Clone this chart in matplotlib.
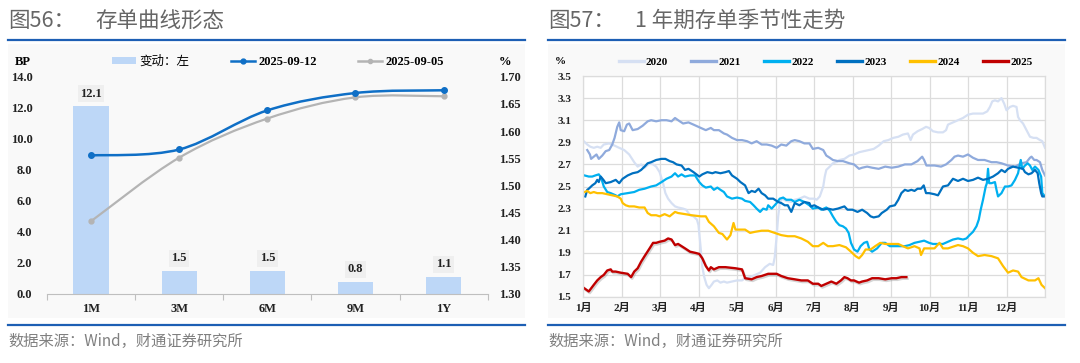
import numpy as np
import matplotlib
matplotlib.use('Agg')
import matplotlib.pyplot as plt
from matplotlib.path import Path
from matplotlib.patches import PathPatch, Rectangle, Patch
from matplotlib.lines import Line2D
import matplotlib.patheffects as pe

plt.rcParams['font.family'] = ['Liberation Serif', 'Noto Sans CJK SC']

# ---- left panel: curve shape ----
tenors = ['1M', '3M', '6M', '9M', '1Y']
change_bp = [12.1, 1.5, 1.5, 0.8, 1.1]
rate_0912 = [1.555, 1.566, 1.638, 1.670, 1.675]
rate_0905 = [1.434, 1.551, 1.623, 1.662, 1.664]

# ---- right panel: 1Y CD seasonality, (month position, %) ----
months = ['1月', '2月', '3月', '4月', '5月', '6月', '7月', '8月', '9月', '10月', '11月', '12月']

s2020 = [(0.02,2.91),(0.11,2.88),(0.19,2.86),(0.28,2.85),(0.37,2.86),(0.46,2.85),(0.54,2.88),(0.68,2.89),(0.82,2.87),(0.94,2.85),
         (1.07,2.83),(1.20,2.79),(1.33,2.72),(1.42,2.68),(1.51,2.70),(1.60,2.67),(1.73,2.71),(1.82,2.70),(1.90,2.68),(1.99,2.63),
         (2.08,2.53),(2.14,2.44),(2.21,2.39),(2.30,2.35),(2.39,2.32),(2.47,2.31),(2.60,2.30),(2.68,2.29),(2.78,2.24),(2.87,2.23),
         (2.96,2.20),(3.00,2.15),(3.02,2.08),(3.06,1.93),(3.10,1.77),(3.15,1.68),(3.21,1.61),(3.27,1.58),(3.34,1.61),(3.40,1.64),
         (3.49,1.65),(3.57,1.63),(3.66,1.64),(3.74,1.63),(3.87,1.64),(4.00,1.65),(4.13,1.65),(4.21,1.67),(4.34,1.68),(4.47,1.70),
         (4.60,1.72),(4.73,1.77),(4.77,1.78),(4.85,1.80),(4.94,1.79),(4.98,1.86),(5.03,2.05),(5.07,2.23),(5.11,2.35),(5.17,2.39),
         (5.28,2.37),(5.41,2.36),(5.50,2.38),(5.62,2.39),(5.75,2.41),(5.88,2.39),(6.01,2.39),(6.07,2.38),(6.15,2.41),(6.24,2.50),
         (6.28,2.59),(6.32,2.65),(6.41,2.68),(6.49,2.71),(6.58,2.72),(6.66,2.74),(6.79,2.75),(6.92,2.78),(7.04,2.79),(7.17,2.81),
         (7.30,2.82),(7.42,2.83),(7.55,2.84),(7.68,2.87),(7.81,2.91),(7.93,2.92),(8.06,2.94),(8.19,2.95),(8.31,2.97),(8.44,2.98),
         (8.51,2.92),(8.57,2.97),(8.69,3.00),(8.81,3.02),(8.91,3.04),(8.99,3.03),(9.09,3.00),(9.22,2.99),(9.35,2.99),(9.43,3.01),
         (9.48,3.06),(9.61,3.08),(9.74,3.10),(9.87,3.12),(10.00,3.15),(10.13,3.16),(10.26,3.16),(10.39,3.16),(10.50,3.18),(10.57,3.22),
         (10.63,3.27),(10.70,3.28),(10.78,3.27),(10.87,3.30),(10.94,3.25),(11.00,3.19),(11.09,3.22),(11.17,3.23),(11.26,3.22),(11.30,3.13),
         (11.35,3.10),(11.43,3.07),(11.52,3.01),(11.61,2.95),(11.70,2.94),(11.78,2.94),(11.87,2.92),(11.93,2.91),(12.00,2.85)]

s2021 = [(0.11,2.83),(0.18,2.79),(0.21,2.75),(0.28,2.77),(0.35,2.79),(0.41,2.75),(0.50,2.78),(0.59,2.82),(0.68,2.83),(0.76,2.88),
         (0.82,2.94),(0.89,3.04),(0.94,3.08),(0.98,3.01),(1.07,3.00),(1.14,3.06),(1.20,3.07),(1.29,3.01),(1.42,3.02),(1.55,3.05),
         (1.68,3.09),(1.77,3.10),(1.90,3.09),(2.04,3.10),(2.17,3.10),(2.30,3.09),(2.39,3.12),(2.47,3.10),(2.60,3.07),(2.74,3.08),
         (2.87,3.06),(3.06,3.03),(3.19,3.01),(3.32,3.03),(3.40,3.01),(3.53,3.01),(3.66,2.98),(3.74,2.97),(3.87,2.94),(4.00,2.92),
         (4.13,2.92),(4.26,2.91),(4.38,2.89),(4.51,2.91),(4.64,2.88),(4.77,2.88),(4.90,2.87),(5.03,2.85),(5.15,2.88),(5.28,2.87),
         (5.41,2.91),(5.50,2.92),(5.62,2.91),(5.75,2.89),(5.88,2.89),(5.97,2.84),(6.11,2.85),(6.24,2.83),(6.32,2.78),(6.41,2.76),
         (6.49,2.74),(6.62,2.73),(6.75,2.73),(6.92,2.71),(7.04,2.70),(7.17,2.66),(7.25,2.67),(7.38,2.68),(7.51,2.67),(7.68,2.66),
         (7.85,2.68),(8.02,2.67),(8.19,2.68),(8.36,2.70),(8.53,2.70),(8.69,2.73),(8.81,2.77),(8.86,2.74),(8.92,2.69),(9.13,2.69),
         (9.30,2.68),(9.43,2.70),(9.57,2.74),(9.65,2.77),(9.74,2.78),(9.87,2.77),(10.00,2.79),(10.13,2.76),(10.26,2.74),(10.43,2.74),
         (10.61,2.72),(10.74,2.72),(10.87,2.71),(11.04,2.69),(11.22,2.68),(11.39,2.71),(11.52,2.72),(11.61,2.76),(11.65,2.77),(11.72,2.74),
         (11.78,2.74),(11.87,2.72),(11.93,2.65),(12.00,2.60)]

s2022 = [(0.04,2.60),(0.15,2.59),(0.24,2.59),(0.32,2.60),(0.41,2.61),(0.47,2.58),(0.54,2.50),(0.63,2.45),(0.72,2.44),(0.85,2.42),
         (0.89,2.41),(0.98,2.43),(1.16,2.44),(1.33,2.45),(1.46,2.47),(1.60,2.48),(1.77,2.50),(1.90,2.51),(2.04,2.54),(2.17,2.57),
         (2.30,2.59),(2.39,2.62),(2.47,2.59),(2.56,2.61),(2.65,2.59),(2.78,2.60),(2.91,2.60),(3.02,2.54),(3.10,2.51),(3.19,2.49),
         (3.32,2.50),(3.40,2.47),(3.49,2.49),(3.57,2.47),(3.66,2.45),(3.74,2.41),(3.87,2.39),(4.00,2.40),(4.13,2.39),(4.21,2.37),
         (4.34,2.36),(4.43,2.33),(4.51,2.30),(4.60,2.27),(4.68,2.30),(4.77,2.29),(4.81,2.33),(4.90,2.30),(5.03,2.35),(5.11,2.39),
         (5.20,2.40),(5.28,2.38),(5.41,2.38),(5.50,2.36),(5.62,2.38),(5.75,2.36),(5.88,2.33),(5.97,2.30),(6.11,2.31),(6.19,2.29),
         (6.32,2.31),(6.41,2.28),(6.49,2.23),(6.58,2.18),(6.66,2.15),(6.75,2.14),(6.83,2.12),(6.90,2.08),(6.96,1.99),(7.04,1.93),
         (7.13,1.91),(7.21,1.96),(7.30,1.99),(7.38,2.00),(7.44,1.93),(7.51,1.91),(7.64,1.94),(7.76,1.99),(7.85,1.99),(7.97,1.96),
         (8.10,1.96),(8.23,1.96),(8.36,1.96),(8.48,1.97),(8.61,1.99),(8.74,2.00),(8.86,2.01),(8.99,1.99),(9.09,1.98),(9.22,1.98),
         (9.35,1.98),(9.48,2.00),(9.61,2.02),(9.74,2.03),(9.87,2.02),(9.96,2.03),(10.04,2.06),(10.13,2.09),(10.22,2.14),(10.28,2.20),
         (10.33,2.29),(10.39,2.38),(10.46,2.50),(10.49,2.53),(10.52,2.66),(10.55,2.53),(10.61,2.53),(10.70,2.54),(10.74,2.47),(10.78,2.41),
         (10.87,2.44),(10.96,2.50),(11.04,2.50),(11.13,2.51),(11.22,2.56),(11.30,2.62),(11.37,2.74),(11.41,2.66),(11.48,2.69),(11.55,2.71),
         (11.61,2.69),(11.67,2.65),(11.74,2.68),(11.83,2.65),(11.90,2.59),(11.93,2.44),(11.98,2.42)]

s2023 = [(0.06,2.41),(0.11,2.47),(0.15,2.48),(0.24,2.51),(0.32,2.53),(0.37,2.56),(0.41,2.54),(0.46,2.59),(0.53,2.56),(0.59,2.53),
         (0.72,2.54),(0.85,2.56),(0.94,2.53),(1.03,2.57),(1.16,2.60),(1.29,2.62),(1.42,2.63),(1.51,2.65),(1.60,2.68),(1.68,2.71),
         (1.77,2.72),(1.90,2.74),(2.04,2.75),(2.14,2.75),(2.25,2.73),(2.34,2.72),(2.43,2.70),(2.56,2.69),(2.65,2.65),(2.74,2.66),
         (2.87,2.63),(3.02,2.59),(3.10,2.61),(3.23,2.63),(3.36,2.62),(3.44,2.63),(3.57,2.62),(3.70,2.63),(3.79,2.64),(3.87,2.60),
         (4.00,2.57),(4.09,2.54),(4.21,2.51),(4.30,2.44),(4.38,2.46),(4.47,2.45),(4.56,2.48),(4.64,2.44),(4.73,2.42),(4.81,2.39),
         (4.94,2.39),(5.07,2.36),(5.15,2.35),(5.24,2.33),(5.32,2.33),(5.41,2.27),(5.50,2.35),(5.62,2.33),(5.75,2.36),(5.88,2.35),
         (5.92,2.32),(6.01,2.33),(6.11,2.31),(6.24,2.29),(6.36,2.30),(6.49,2.29),(6.62,2.30),(6.79,2.32),(6.87,2.29),(7.00,2.29),
         (7.13,2.27),(7.25,2.29),(7.38,2.26),(7.47,2.23),(7.55,2.22),(7.68,2.23),(7.76,2.26),(7.89,2.29),(7.97,2.32),(8.10,2.33),
         (8.19,2.38),(8.27,2.44),(8.36,2.47),(8.44,2.46),(8.53,2.47),(8.61,2.46),(8.69,2.48),(8.78,2.48),(8.85,2.51),(8.91,2.44),
         (8.99,2.44),(9.13,2.43),(9.22,2.42),(9.35,2.50),(9.48,2.51),(9.61,2.57),(9.74,2.55),(9.87,2.57),(10.00,2.55),(10.13,2.56),
         (10.26,2.58),(10.39,2.56),(10.52,2.57),(10.65,2.59),(10.78,2.62),(10.87,2.65),(10.96,2.63),(11.04,2.66),(11.17,2.68),(11.30,2.67),
         (11.43,2.66),(11.48,2.63),(11.57,2.61),(11.65,2.62),(11.74,2.65),(11.81,2.62),(11.85,2.53),(11.90,2.44),(11.93,2.41),(12.00,2.41)]

s2024 = [(0.04,2.45),(0.11,2.46),(0.19,2.44),(0.28,2.45),(0.37,2.44),(0.50,2.44),(0.63,2.43),(0.76,2.42),(0.89,2.41),(0.98,2.39),
         (1.03,2.35),(1.11,2.33),(1.20,2.32),(1.33,2.32),(1.46,2.31),(1.60,2.31),(1.68,2.26),(1.77,2.24),(1.90,2.24),(1.99,2.23),
         (2.12,2.25),(2.25,2.23),(2.39,2.27),(2.47,2.26),(2.65,2.25),(2.82,2.24),(3.06,2.23),(3.19,2.23),(3.27,2.18),(3.40,2.14),
         (3.53,2.08),(3.62,2.07),(3.74,2.02),(3.83,2.06),(3.91,2.17),(3.96,2.11),(4.09,2.11),(4.21,2.11),(4.34,2.08),(4.47,2.09),
         (4.64,2.10),(4.81,2.10),(4.98,2.08),(5.15,2.06),(5.32,2.05),(5.50,2.05),(5.67,2.03),(5.84,2.00),(5.97,1.96),(6.11,1.96),
         (6.24,1.99),(6.36,1.96),(6.49,1.96),(6.66,1.97),(6.83,1.95),(6.96,1.91),(7.08,1.87),(7.17,1.85),(7.25,1.88),(7.34,1.93),
         (7.47,1.93),(7.59,1.96),(7.72,1.99),(7.85,1.98),(8.02,1.98),(8.19,1.98),(8.31,1.96),(8.44,1.94),(8.61,1.96),(8.74,1.94),
         (8.78,1.88),(8.86,1.94),(9.00,1.94),(9.13,1.94),(9.26,1.99),(9.35,1.94),(9.48,1.94),(9.65,1.96),(9.74,1.97),(9.87,1.96),
         (10.00,1.94),(10.13,1.90),(10.26,1.87),(10.43,1.88),(10.61,1.87),(10.78,1.85),(10.91,1.78),(11.04,1.72),(11.17,1.74),(11.30,1.73),
         (11.39,1.68),(11.57,1.65),(11.74,1.65),(11.83,1.67),(11.91,1.61),(12.00,1.58)]

s2025 = [(0.03,1.58),(0.15,1.55),(0.28,1.61),(0.37,1.65),(0.46,1.68),(0.54,1.70),(0.63,1.74),(0.72,1.75),(0.76,1.73),(0.85,1.73),
         (0.98,1.72),(1.16,1.71),(1.25,1.68),(1.33,1.73),(1.42,1.76),(1.51,1.82),(1.60,1.87),(1.73,1.94),(1.82,1.99),(1.90,1.99),
         (1.99,2.00),(2.12,2.01),(2.21,2.03),(2.30,2.02),(2.39,1.97),(2.47,1.98),(2.56,1.96),(2.65,1.94),(2.78,1.91),(2.91,1.90),
         (3.02,1.89),(3.10,1.85),(3.19,1.78),(3.27,1.74),(3.32,1.77),(3.40,1.75),(3.53,1.77),(3.70,1.77),(3.96,1.76),(4.13,1.75),
         (4.21,1.67),(4.38,1.66),(4.51,1.68),(4.64,1.69),(4.81,1.71),(5.03,1.71),(5.15,1.69),(5.32,1.67),(5.50,1.66),(5.67,1.65),
         (5.84,1.65),(5.97,1.62),(6.11,1.62),(6.19,1.60),(6.32,1.62),(6.45,1.64),(6.58,1.62),(6.70,1.65),(6.79,1.68),(6.87,1.67),
         (6.96,1.65),(7.04,1.65),(7.17,1.63),(7.25,1.64),(7.38,1.65),(7.51,1.67),(7.68,1.67),(7.85,1.66),(8.02,1.67),(8.14,1.67),
         (8.27,1.68),(8.40,1.68)]

years = ['2020', '2021', '2022', '2023', '2024', '2025']
series = [s2020, s2021, s2022, s2023, s2024, s2025]
year_colors = ['#d6e0f3', '#8faadc', '#00b0f0', '#0070c0', '#ffc000', '#c00000']

W, H = 1080, 363
def fx(px):
    return px / W
def fy(py):
    return 1 - py / H

def smooth_path(xs, ys):
    # excel-style smoothed line: bezier segments through the points
    pts = np.column_stack([xs, ys])
    n = len(pts)
    verts = [pts[0]]
    codes = [Path.MOVETO]
    for i in range(n - 1):
        p0 = pts[max(i - 1, 0)]
        p1 = pts[i]
        p2 = pts[i + 1]
        p3 = pts[min(i + 2, n - 1)]
        verts += [p1 + (p2 - p0) / 6, p2 - (p3 - p1) / 6, p2]
        codes += [Path.CURVE4] * 3
    return Path(verts, codes)

fig = plt.figure(figsize=(10.8, 3.63), dpi=100)
fig.patch.set_facecolor('white')

title_gray = '#666666'
rule_blue = '#1d5fb4'
bold9 = dict(weight='bold', size=9)

for x0, x1, head, name in [(8, 525, '图56：', '存单曲线形态'), (548, 1065, '图57：', '1 年期存单季节性走势')]:
    fig.add_artist(Rectangle((fx(x0), fy(318)), fx(x1) - fx(x0), fy(44) - fy(318),
                             transform=fig.transFigure, facecolor='#f9f9f9', edgecolor='none', zorder=0))
    fig.text(fx(x0), fy(21), head, fontsize=15.5, color=title_gray, family='Noto Sans CJK SC', va='center')
    fig.text(fx(x0 + 87), fy(21), name, fontsize=15.5, color=title_gray, family='Noto Sans CJK SC', va='center')
    fig.add_artist(Line2D([fx(x0), fx(x1)], [fy(39.5)] * 2, color=rule_blue, lw=1.6))
    fig.add_artist(Line2D([fx(x0), fx(x1)], [fy(325)] * 2, color=rule_blue, lw=1.6))
    fig.text(fx(x0), fy(341), '数据来源：Wind，财通证券研究所', fontsize=11, color='#808080',
             family='Noto Sans CJK SC', va='center')

# ---------------- left chart ----------------
ax1 = fig.add_axes([fx(47), fy(294), fx(487.7) - fx(47), fy(76.7) - fy(294)])
ax1.patch.set_alpha(0)
xs = np.arange(len(tenors))
bar_color = '#bdd7f7'
bars = ax1.bar(xs, change_bp, width=0.4, color=bar_color, zorder=2)
for b, v in zip(bars, change_bp):
    ax1.annotate(f'{v:.1f}', (b.get_x() + b.get_width() / 2, v), xytext=(0, 9), textcoords='offset points',
                 ha='center', va='center', fontsize=9, weight='bold', color='#222222',
                 bbox=dict(boxstyle='square,pad=0.2', fc='#efefef', ec='none'))
ax1.set_xlim(-0.5, len(tenors) - 0.5)
ax1.set_ylim(0, 14)
ax1.set_yticks(np.arange(0, 14.1, 2))
ax1.set_yticklabels([f'{v:.1f}' for v in np.arange(0, 14.1, 2)])
ax1.set_xticks(xs)
ax1.set_xticklabels(tenors)
ax1.set_xticks(np.arange(-0.5, len(tenors)), minor=True)
ax1.tick_params(axis='x', which='major', length=0, pad=6.5, labelsize=9, labelcolor='#222222')
ax1.tick_params(axis='x', which='minor', length=4, color='#bfbfbf', width=0.8)
ax1.tick_params(axis='y', length=0, pad=10.5, labelsize=9, labelcolor='#222222')
for s in ['top', 'right', 'left']:
    ax1.spines[s].set_visible(False)
ax1.spines['bottom'].set_color('#bfbfbf')
for lab in ax1.get_xticklabels() + ax1.get_yticklabels():
    lab.set_fontweight('bold')

ax2 = ax1.twinx()
ax2.set_ylim(1.30, 1.70)
rt = np.arange(1.30, 1.701, 0.05)
ax2.set_yticks(rt)
ax2.set_yticklabels([f'{v:.2f}' for v in rt])
ax2.tick_params(axis='y', length=0, pad=8.5, labelsize=9, labelcolor='#222222')
for lab in ax2.get_yticklabels():
    lab.set_fontweight('bold')
for s in ax2.spines.values():
    s.set_visible(False)

c_new, c_old = '#0f6fc6', '#b4b4b4'
ax2.add_patch(PathPatch(smooth_path(xs, rate_0905), fill=False, edgecolor=c_old, lw=1.6, zorder=3))
ax2.plot(xs, rate_0905, 'o', color=c_old, ms=3.5, zorder=3)
ax2.add_patch(PathPatch(smooth_path(xs, rate_0912), fill=False, edgecolor=c_new, lw=1.8, zorder=4))
ax2.plot(xs, rate_0912, 'o', color=c_new, ms=4, zorder=4)

left_handles = [Patch(facecolor=bar_color, edgecolor='none'),
                Line2D([], [], color=c_new, lw=1.8, marker='o', ms=3.5),
                Line2D([], [], color=c_old, lw=1.8, marker='o', ms=3)]
leg = fig.legend(left_handles, ['变动：左', '2025-09-12', '2025-09-05'], ncol=3, loc='center left',
                 bbox_to_anchor=(fx(112), fy(62)), bbox_transform=fig.transFigure, frameon=False,
                 borderpad=0, borderaxespad=0, handlelength=1.95, handleheight=0.5, handletextpad=0.25,
                 columnspacing=3.3, prop=bold9)
leg.get_texts()[0].set_fontweight('normal')
fig.text(fx(14.5), fy(62), 'BP', va='center', **bold9)
fig.text(fx(499), fy(62), '%', va='center', **bold9)

# ---------------- right chart ----------------
ax3 = fig.add_axes([fx(583), fy(297), fx(1045) - fx(583), fy(76) - fy(297)])
ax3.set_facecolor('white')
for yr, s, col in zip(years, series, year_colors):
    mx, val = np.array(s).T
    kw = {}
    if yr == '2025':
        kw['path_effects'] = [pe.SimpleLineShadow(offset=(0.8, -1.2), shadow_color='#777777', alpha=0.3),
                              pe.Normal()]
    ax3.plot(mx, val, color=col, lw=1.7 if yr == '2025' else 1.6, solid_joinstyle='round', **kw)
ax3.set_xlim(0, 12)
ax3.set_ylim(1.5, 3.5)
yt = np.arange(1.5, 3.51, 0.2)
ax3.set_yticks(yt)
ax3.set_yticklabels([f'{v:.1f}' for v in yt])
ax3.set_xticks(np.arange(13))
ax3.set_xticklabels(months + [''])
ax3.grid(True, color='#dcdcdc', lw=0.9)
ax3.set_axisbelow(True)
ax3.tick_params(length=0, labelsize=8, labelcolor='#222222')
ax3.tick_params(axis='y', pad=8.5)
ax3.tick_params(axis='x', pad=4.5)
for lab in ax3.get_xticklabels() + ax3.get_yticklabels():
    lab.set_fontweight('bold')
for s in ax3.spines.values():
    s.set_color('#dcdcdc')
    s.set_linewidth(0.9)

right_handles = [Line2D([], [], color=c, lw=2.4) for c in year_colors]
fig.legend(right_handles, years, ncol=6, loc='center left',
           bbox_to_anchor=(fx(618.5), fy(62)), bbox_transform=fig.transFigure, frameon=False,
           borderpad=0, borderaxespad=0, handlelength=2.25, handletextpad=0.2,
           columnspacing=2.1, prop=dict(weight='bold', size=8))
fig.text(fx(554.5), fy(62), '%', va='center', weight='bold', size=8)

fig.savefig('out.png', dpi=100)
